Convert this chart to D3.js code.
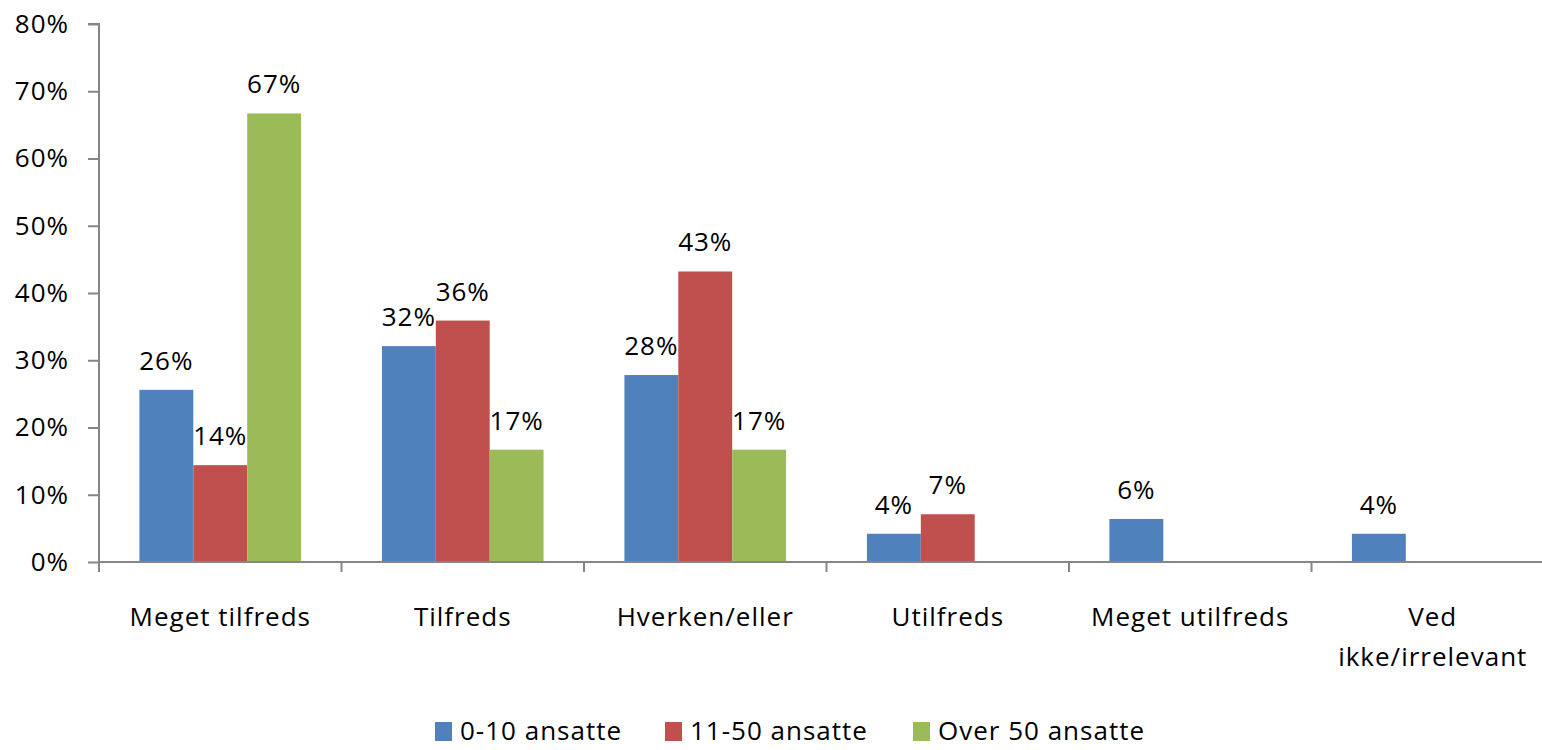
<!DOCTYPE html>
<html>
<head>
<meta charset="utf-8">
<script src="https://cdn.jsdelivr.net/npm/d3@7"></script>
<style>
  body { margin: 0; background: #fff; overflow: hidden; }
  text { font-family: "Open Sans", sans-serif; fill: #000; letter-spacing: 1px; }
</style>
</head>
<body>
<div id="chart"></div>
<script>
const categories = ["Meget tilfreds", "Tilfreds", "Hverken/eller", "Utilfreds", "Meget utilfreds", "Ved ikke/irrelevant"];
const seriesNames = ["0-10 ansatte", "11-50 ansatte", "Over 50 ansatte"];
const colors = ["#4F81BD", "#C0504D", "#9BBB59"];

// values in percent, null = no bar
const small = [25.6, 32.1, 27.8, 4.2, 6.4, 4.2];
const medium = [14.4, 35.9, 43.2, 7.1, null, null];
const large = [66.7, 16.7, 16.7, null, null, null];
const yTicks = [0, 10, 20, 30, 40, 50, 60, 70, 80];

const width = 1542;
const height = 750;
// the category axis runs past the right edge, as in the original
const margin = { top: 24, right: -12, bottom: 188, left: 99 };

const svg = d3
  .select("#chart")
  .append("svg")
  .attr("width", width)
  .attr("height", height);

const x = d3
  .scaleBand()
  .domain(categories)
  .range([margin.left, width - margin.right]);

const xInner = d3
  .scaleBand()
  .domain(seriesNames)
  .range([0, x.bandwidth()])
  .paddingOuter(0.75);

const y = d3
  .scaleLinear()
  .domain([0, 80])
  .range([height - margin.bottom, margin.top]);

const data = [];
categories.forEach((c, i) => {
  [small, medium, large].forEach((s, j) => {
    if (s[i] != null) data.push({ cat: c, series: seriesNames[j], color: colors[j], value: s[i] });
  });
});

// bars
svg
  .selectAll("rect.bar")
  .data(data)
  .enter()
  .append("rect")
  .attr("class", "bar")
  .attr("x", (d) => x(d.cat) + xInner(d.series))
  .attr("y", (d) => y(d.value))
  .attr("width", xInner.bandwidth())
  .attr("height", (d) => y(0) - y(d.value))
  .attr("fill", (d) => d.color);

// value labels
svg
  .selectAll("text.value")
  .data(data)
  .enter()
  .append("text")
  .attr("class", "value")
  .attr("x", (d) => x(d.cat) + xInner(d.series) + xInner.bandwidth() / 2)
  .attr("y", (d) => y(d.value) - 20)
  .attr("text-anchor", "middle")
  .style("font-size", "26px")
  .text((d) => Math.round(d.value) + "%");

// y axis
const yAxis = svg
  .append("g")
  .attr("transform", `translate(${margin.left},0)`)
  .call(
    d3.axisLeft(y)
      .tickValues(yTicks)
      .tickSize(11)
      .tickPadding(19)
      .tickFormat((d) => d + "%")
  );
yAxis.selectAll("path, line").attr("stroke", "#868686").attr("stroke-width", 2);
yAxis.select("path").attr("d", `M-11,${y(80)}H0V${y(0)}`);
yAxis.selectAll("text").style("font-size", "26px").attr("fill", "#000");

// x axis line with ticks at category boundaries
const bounds = categories.map((c) => x(c)).concat([width - margin.right]);
const xAxis = svg.append("g");
xAxis
  .append("line")
  .attr("x1", margin.left)
  .attr("x2", width - margin.right)
  .attr("y1", y(0))
  .attr("y2", y(0))
  .attr("stroke", "#868686")
  .attr("stroke-width", 2);
xAxis
  .selectAll("line.tick")
  .data(bounds)
  .enter()
  .append("line")
  .attr("class", "tick")
  .attr("x1", (d) => d)
  .attr("x2", (d) => d)
  .attr("y1", y(0))
  .attr("y2", y(0) + 10)
  .attr("stroke", "#868686")
  .attr("stroke-width", 2);

// category labels
const catLines = {
  "Ved ikke/irrelevant": ["Ved", "ikke/irrelevant"],
};
categories.forEach((c) => {
  const lines = catLines[c] || [c];
  const t = svg
    .append("text")
    .attr("x", x(c) + x.bandwidth() / 2)
    .attr("y", y(0) + 64)
    .attr("text-anchor", "middle")
    .style("font-size", "26px");
  lines.forEach((l, i) => {
    t.append("tspan")
      .attr("x", x(c) + x.bandwidth() / 2)
      .attr("dy", i === 0 ? 0 : 40)
      .text(l);
  });
});

// legend
const legendX = [435, 665, 913];
const legend = svg
  .selectAll("g.legend")
  .data(seriesNames)
  .enter()
  .append("g")
  .attr("class", "legend")
  .attr("transform", (d, i) => `translate(${legendX[i]},722)`);
legend
  .append("rect")
  .attr("width", 17)
  .attr("height", 19)
  .attr("fill", (d, i) => colors[i]);
legend
  .append("text")
  .attr("x", 25)
  .attr("y", 18)
  .style("font-size", "26px")
  .text((d) => d);
</script>
</body>
</html>
